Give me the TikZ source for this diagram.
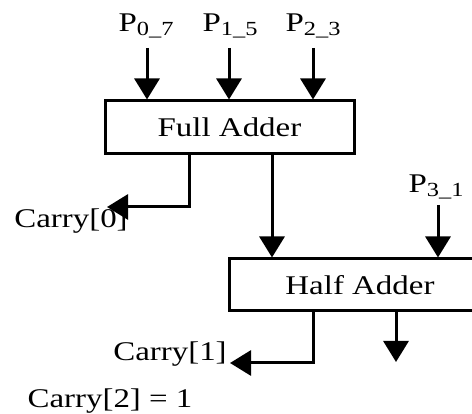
\documentclass[tikz,border=0pt]{standalone}
\usepackage{fontspec}
\setmainfont{Liberation Serif}[FakeStretch=1.22]
\usetikzlibrary{arrows.meta}
\newcommand{\Psub}[1]{P\raisebox{-0.35ex}{\fontsize{20}{21}\selectfont #1}}
\begin{document}
\begin{tikzpicture}[x=1pt,y=-1pt,
  wire/.style={line width=3pt},
  arr/.style={wire,-{Triangle[width=25pt,length=21pt]}},
  blk/.style={draw,line width=3pt,rectangle,inner sep=0pt},
  lbl/.style={inner sep=0pt,font=\fontsize{27}{29}\selectfont}]
\useasboundingbox (0,0) rectangle (472,414);
\node[blk,minimum width=249pt,minimum height=53pt,lbl] (fa) at (229.5,127.5) {Full Adder};
\node[blk,minimum width=262pt,minimum height=52pt,lbl] (ha) at (360,285) {Half Adder};
\node[lbl] (p0) at (146,26) {\Psub{0\_7}};
\node[lbl] (p1) at (230,26) {\Psub{1\_5}};
\node[lbl] (p2) at (313,26) {\Psub{2\_3}};
\node[lbl] (p3) at (436,187) {\Psub{3\_1}};
\node[lbl] (c0) at (71,221) {Carry[0]};
\node[lbl] (c1) at (170,354) {Carry[1]};
\node[lbl] (c2) at (110,401) {Carry[2] = 1};
\coordinate (i0) at (147,48);
\coordinate (i1) at (229,48);
\coordinate (i2) at (313,48);
\coordinate (i3) at (438,205);
\coordinate (co0) at (107,207);
\coordinate (co1) at (230,363);
\coordinate (so) at (396,362);
\draw[arr] (i0) -- (i0 |- fa.north);
\draw[arr] (i1) -- (i1 |- fa.north);
\draw[arr] (i2) -- (i2 |- fa.north);
\draw[arr] (i3) -- (i3 |- ha.north);
\draw[arr] (fa.south -| 189,0) |- (co0);
\draw[arr] (fa.south -| 272,0) -- (ha.north -| 272,0);
\draw[arr] (ha.south -| 313,0) |- (co1);
\draw[arr] (ha.south -| so) -- (so);
\end{tikzpicture}
\end{document}
